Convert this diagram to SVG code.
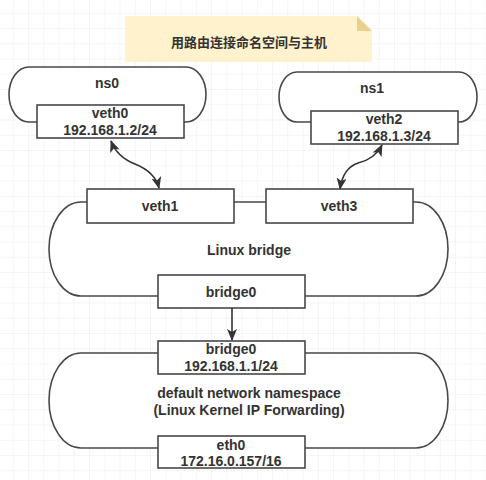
<svg xmlns="http://www.w3.org/2000/svg" width="486" height="480" viewBox="0 0 486 480">
<defs>
<pattern id="grid" x="-1.5" y="-1.5" width="15.25" height="15.25" patternUnits="userSpaceOnUse">
<path d="M15.25 0 V15.25 M0 15.25 H15.25" fill="none" stroke="#ececec" stroke-width="1"/>
</pattern>
<marker id="ah" viewBox="0 0 12 10" refX="11" refY="5" markerWidth="12" markerHeight="10" markerUnits="userSpaceOnUse" orient="auto-start-reverse">
<path d="M0,0 L12,5 L0,10 L3,5 z" fill="#333"/>
</marker>
<style>
.shape{fill:#fff;stroke:#45484d;stroke-width:1.6}
.box{fill:#fff;stroke:#45484d;stroke-width:1.6}
.t{font-family:"Liberation Sans",Arial,sans-serif;font-weight:bold;font-size:14px;fill:#333;text-anchor:middle}
.cjk{font-family:"Noto Sans CJK SC",sans-serif;font-weight:bold;font-size:13px;fill:#333;text-anchor:middle}
.edge{fill:none;stroke:#333;stroke-width:1.6}
</style>
</defs>
<rect width="486" height="480" fill="#fff"/>
<rect width="486" height="480" fill="url(#grid)"/>

<g id="title">
<polygon points="125,16 357,16 372,31 372,62 125,62" fill="#fff2cc"/>
<polygon points="357,16 372,31 357,31" fill="#e6d28c"/>
<text class="cjk" x="249" y="47">用路由连接命名空间与主机</text>
</g>

<g id="ns0">
<path class="shape" d="M29,67 H186 A20,27.5 0 0 1 186,122 H29 A20,27.5 0 0 1 29,67 Z"/>
<text class="t" x="107" y="88">ns0</text>
</g>
<g id="veth0">
<rect class="box" x="37" y="105" width="147" height="33"/>
<text class="t" x="110" y="118">veth0</text>
<text class="t" x="110" y="135">192.168.1.2/24</text>
</g>

<g id="ns1">
<path class="shape" d="M297,72 H459 A18,25 0 0 1 459,122 H297 A18,25 0 0 1 297,72 Z"/>
<text class="t" x="372" y="93">ns1</text>
</g>
<g id="veth2">
<rect class="box" x="311" y="111" width="147" height="33"/>
<text class="t" x="384" y="124">veth2</text>
<text class="t" x="384" y="141">192.168.1.3/24</text>
</g>

<g id="linux-bridge">
<path class="shape" d="M81,202 H416 A32,47 0 0 1 416,296 H81 A32,47 0 0 1 81,202 Z"/>
<text class="t" x="249" y="255">Linux bridge</text>
</g>
<g id="veth1">
<rect class="box" x="87" y="189" width="147" height="34"/>
<text class="t" x="160" y="211">veth1</text>
</g>
<g id="veth3">
<rect class="box" x="266" y="189" width="147" height="34"/>
<text class="t" x="339" y="211">veth3</text>
</g>
<g id="bridge0-top">
<rect class="box" x="158" y="275" width="147" height="33"/>
<text class="t" x="231" y="297">bridge0</text>
</g>

<g id="default-ns">
<path class="shape" d="M81,353 H416 A32,47.5 0 0 1 416,448 H81 A32,47.5 0 0 1 81,353 Z"/>
<text class="t" x="249" y="397.5">default network namespace</text>
<text class="t" x="249" y="414.5">(Linux Kernel IP Forwarding)</text>
</g>
<g id="bridge0">
<rect class="box" x="158" y="341" width="147" height="33"/>
<text class="t" x="231" y="354">bridge0</text>
<text class="t" x="231" y="371">192.168.1.1/24</text>
</g>
<g id="eth0">
<rect class="box" x="158" y="436" width="147" height="32"/>
<text class="t" x="231" y="449.5">eth0</text>
<text class="t" x="231" y="466">172.16.0.157/16</text>
</g>

<g id="connectors">
<path class="edge" d="M111,141 Q117,157 135,164 Q155,172 159,188" marker-start="url(#ah)" marker-end="url(#ah)"/>
<path class="edge" d="M382,145 Q375,159 358,163 Q343,168 340,189" marker-start="url(#ah)" marker-end="url(#ah)"/>
<path class="edge" d="M232,308 V340" marker-end="url(#ah)"/>
</g>
</svg>
